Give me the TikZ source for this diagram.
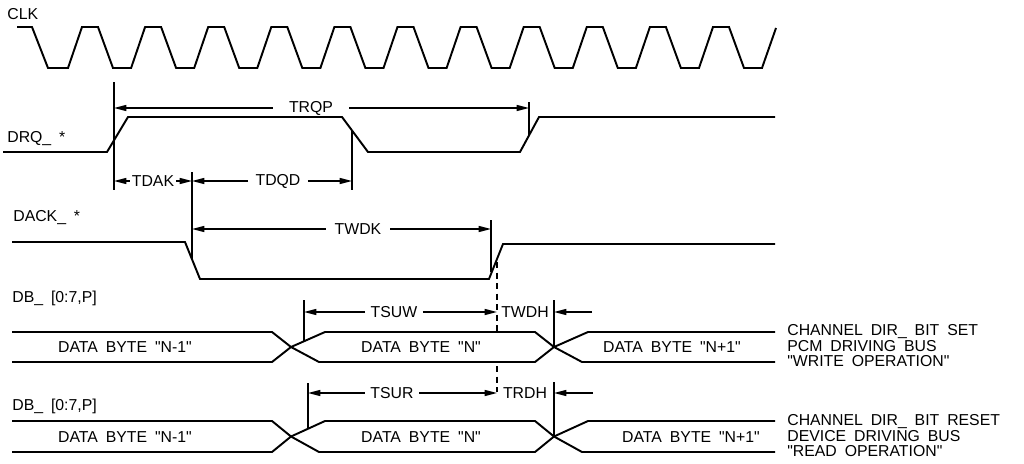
\documentclass[tikz,border=0pt]{standalone}
\usepackage{fontspec}
\setmainfont{Liberation Sans}[Ligatures=TeXOff]
\usetikzlibrary{arrows.meta, positioning}

\begin{document}
\begin{tikzpicture}[
    x=0.02cm, y=-0.02cm,
    wave/.style={line width=1.1pt, line join=miter},
    marker/.style={line width=0.8pt},
    dim/.style={line width=0.8pt, -{Triangle[length=7pt, width=3.4pt]}},
    sig/.style={
        font={\fontsize{9}{8.8}\selectfont\spaceskip=0.5em\relax},
        inner sep=0pt
    },
    tag/.style={sig, anchor=west},
    dimtext/.style={sig, inner xsep=3pt}
]
\useasboundingbox (0,0) rectangle (1024,463);

% Signal names
\node[tag] (clk) at (7,14) {CLK};
\node[tag] (drq) at (7,139) {DRQ\_ *};
\node[tag] (dack) at (13,218) {DACK\_ *};
\node[tag] (dbw) at (12,298) {DB\_ [0:7,P]};
\node[tag] (dbr) at (12,406) {DB\_ [0:7,P]};

% Clock
\draw[wave] (17,27) -- (32,27) -- (48,68)
    foreach \k in {0,...,10} {
        -- ({68+63.1*\k},68) -- ({82+63.1*\k},27)
        -- ({98+63.1*\k},27) -- ({113+63.1*\k},68)
    } -- (762,68) -- (776,28);

% DRQ and DACK
\draw[wave] (3,152) -- (107,152) -- (128,117) -- (342,117)
    -- (368,152) -- (520,152) -- (539,117) -- (775,117);
\draw[wave] (12,242) -- (185,242) -- (200,279) -- (489,279)
    -- (503,244) -- (775,244);

% Data buses
\foreach \t/\b in {332/362, 421/452} {
    \pgfmathsetmacro{\m}{(\t+\b)/2}
    \draw[wave] (12,\t) -- (272,\t) -- (291,\m) -- (319,\b) -- (535,\b)
        -- (554,\m) -- (588,\t) -- (775,\t);
    \draw[wave] (12,\b) -- (272,\b) -- (291,\m) -- (325,\t) -- (535,\t)
        -- (554,\m) -- (582,\b) -- (775,\b);
}

\node[sig] (wa) at (125,347) {DATA BYTE "N-1"};
\node[sig] (wb) at (421,347) {DATA BYTE "N"};
\node[sig] (wc) at (672,347) {DATA BYTE "N+1"};
\node[sig] (ra) at (125,437) {DATA BYTE "N-1"};
\node[sig] (rb) at (421,437) {DATA BYTE "N"};
\node[sig] (rc) at (691,437) {DATA BYTE "N+1"};

\node[tag, align=left] (wnote) at (787,346)
    {CHANNEL DIR\_ BIT SET\\PCM DRIVING BUS\\"WRITE OPERATION"};
\node[tag, align=left] (rnote) at (787,436)
    {CHANNEL DIR\_ BIT RESET\\DEVICE DRIVING BUS\\"READ OPERATION"};

% Timing markers
\coordinate (mA) at (114,82);
\coordinate (mB) at (192,172);
\coordinate (mC) at (352,130);
\coordinate (mD) at (491,220);
\coordinate (mE) at (529,102);
\coordinate (mF) at (304,300);
\coordinate (mG) at (554,300);
\coordinate (mH) at (308,383);
\coordinate (mK) at (554,382);
\coordinate (ds) at (497,262);

\draw[marker] (mA) -- ++(0,108);
\draw[marker] (mB) -- ++(0,88);
\draw[marker] (mC) -- ++(0,60);
\draw[marker] (mD) -- ++(0,52);
\draw[marker] (mE) -- ++(0,33);
\draw[marker] (mF) -- ++(0,41);
\draw[marker] (mG) -- ++(0,47);
\draw[marker] (mH) -- ++(0,46);
\draw[marker] (mK) -- ++(0,55);
\draw[marker, dash pattern=on 3.5pt off 2.5pt] (ds) -- ++(0,70) ++(0,34) -- ++(0,26);

% Timing parameters
\node[dimtext, inner xsep=9pt] (trqp) at (311,108) {TRQP};
\draw[dim] (trqp.west) -- (mA |- trqp);
\draw[dim] (trqp.east) -- (mE |- trqp);

\node[dimtext, inner xsep=1pt] (tdak) at (153,181) {TDAK};
\draw[dim] (tdak.west) -- (mA |- tdak);
\draw[dim] (tdak.east) -- (mB |- tdak);

\node[dimtext, inner xsep=4pt] (tdqd) at (278,181) {TDQD};
\draw[dim] (tdqd.west) -- (mB |- tdqd);
\draw[dim] (tdqd.east) -- (mC |- tdqd);

\node[dimtext, inner xsep=5pt] (twdk) at (358,229) {TWDK};
\draw[dim] (twdk.west) -- (mB |- twdk);
\draw[dim] (twdk.east) -- (mD |- twdk);

\node[dimtext] (tsuw) at (394,312) {TSUW};
\draw[dim] (tsuw.west) -- (mF |- tsuw);
\draw[dim] (tsuw.east) -- (ds |- tsuw);
\node[sig] (twdh) at (525,312) {TWDH};
\coordinate (wh) at (592,312);
\draw[dim] (wh) -- (mG |- wh);

\node[dimtext] (tsur) at (392,393) {TSUR};
\draw[dim] (tsur.west) -- (mH |- tsur);
\draw[dim] (tsur.east) -- (ds |- tsur);
\node[sig] (trdh) at (525,393) {TRDH};
\coordinate (rh) at (593,393);
\draw[dim] (rh) -- (mK |- rh);

\end{tikzpicture}
\end{document}
